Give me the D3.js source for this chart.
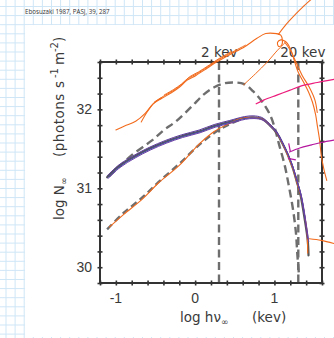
<!DOCTYPE html>
<html>
<head>
<meta charset="utf-8">
<script src="https://cdn.jsdelivr.net/npm/d3@7"></script>
<style>
  body { margin: 0; background: #fff; }
  svg { display: block; }
</style>
</head>
<body>
<svg id="chart" width="334" height="338"></svg>
<script>
// axis labels / markers
const xTickLabels = [-1, 0, 1];
const yTickLabels = [30, 31, 32];
const markerKeV = [2, 20];
const markerLabels = ["2 kev", "20 kev"];

// [log hv, log N]
const modelCurve = [[-1.11,31.14],[-0.96,31.28],[-0.77,31.40],[-0.58,31.50],[-0.37,31.59],[-0.17,31.66],
  [0.05,31.72],[0.24,31.79],[0.43,31.84],[0.62,31.89],[0.73,31.90],[0.84,31.88],[0.94,31.80],[1.03,31.70],
  [1.10,31.57],[1.17,31.42],[1.23,31.26],[1.28,31.09],[1.33,30.91],[1.38,30.62],[1.42,30.34],[1.43,30.15]];
const blackbodyHigh = [[-1.09,31.15],[-0.94,31.29],[-0.80,31.42],[-0.54,31.61],[-0.39,31.74],[-0.24,31.85],
  [-0.04,32.04],[0.11,32.19],[0.24,32.28],[0.37,32.33],[0.49,32.34],[0.62,32.32],[0.73,32.23],[0.85,32.09],
  [0.94,31.94],[1.00,31.78],[1.06,31.55],[1.13,31.29],[1.18,31.04],[1.23,30.76],[1.27,30.45],[1.29,30.15],[1.31,29.90]];
const blackbodyLow = [[-1.11,30.48],[-0.90,30.69],[-0.67,30.88],[-0.46,31.08],[-0.20,31.31],[0.05,31.55],
  [0.24,31.70],[0.43,31.81],[0.62,31.89]];

// hand-drawn overlay strokes
const orangeLower = [[-1.08,30.51],[-0.90,30.67],[-0.67,30.86],[-0.46,31.07],[-0.20,31.29],[0.05,31.56],
  [0.24,31.72],[0.41,31.81],[0.56,31.88],[0.71,31.90],[0.84,31.88],[0.94,31.80],[1.03,31.70],[1.11,31.55],
  [1.18,31.39],[1.24,31.23],[1.29,31.05],[1.34,30.88],[1.38,30.66],[1.41,30.45],[1.42,30.18]];
const orangeUpper = [[-1.00,31.74],[-0.89,31.79],[-0.75,31.85],[-0.63,31.95],[-0.53,32.07],[-0.42,32.14],
  [-0.30,32.21],[-0.20,32.28],[-0.10,32.37],[0.01,32.43],[0.15,32.52],[0.27,32.60],[0.43,32.69],[0.62,32.79],
  [0.78,32.90],[0.89,32.96],[1.03,32.96]];
const orangeBranch = [[-0.68,31.84],[-0.61,31.96],[-0.52,32.08],[-0.42,32.15]];
const orangeCurl = [[1.03,32.96],[1.08,32.94],[1.10,32.88],[1.09,32.81],[1.05,32.80],[1.04,32.85],[1.08,32.88],
  [1.14,32.86],[1.18,32.81],[1.22,32.72],[1.25,32.62],[1.30,32.47],[1.37,32.34],[1.43,32.22],[1.48,32.09],
  [1.52,31.93],[1.54,31.80],[1.57,31.61],[1.59,31.42],[1.62,31.26],[1.66,31.10]];
const orangeCurl2 = [[1.13,32.85],[1.20,32.75],[1.28,32.58],[1.35,32.43],[1.44,32.28],[1.51,32.12],[1.54,31.96]];
const orangeUp = [[1.05,32.95],[1.15,33.08],[1.27,33.21],[1.35,33.29],[1.46,33.39]];
const orangePeak = [[0.61,32.31],[0.76,32.45],[0.91,32.60],[1.04,32.75],[1.13,32.84]];
const orangeRight = [[1.44,30.36],[1.59,30.34],[1.75,30.30]];
const pinkArrow = [[0.77,32.07],[0.87,32.12],[1.03,32.18],[1.19,32.24],[1.35,32.30],[1.54,32.34],[1.75,32.38]];
const magentaArrow = [[1.19,31.46],[1.32,31.51],[1.47,31.55],[1.59,31.58],[1.75,31.61]];
const magentaBarbs = [[[1.18,31.57],[1.20,31.47]], [[1.17,31.38],[1.27,31.36]]];

const svg = d3.select('#chart');
const W = 334, H = 338;

const x = d3.scaleLinear().domain([-1.2, 1.6]).range([100, 322]);
const y = d3.scaleLinear().domain([29.8, 32.6]).range([283, 62]);

// graph paper behind the scan
const grid = svg.append('g').attr('stroke', '#cfe6f7').attr('stroke-width', 1);
d3.range(6, W, 9.1).forEach(v => grid.append('line').attr('x1', v).attr('x2', v).attr('y1', 0).attr('y2', H));
d3.range(6.5, H, 9.1).forEach(v => grid.append('line').attr('y1', v).attr('y2', v).attr('x1', 0).attr('x2', W));
svg.append('rect').attr('x', 25).attr('y', 25).attr('width', W - 25).attr('height', 312).attr('fill', '#fff');

svg.append('text').attr('x', 25).attr('y', 14)
  .attr('font-family', 'Open Sans, sans-serif').attr('font-size', 6.2).attr('fill', '#333')
  .text('Ebosuzaki 1987, PASJ, 39, 287');

const line = d3.line().x(d => x(d[0])).y(d => y(d[1])).curve(d3.curveCatmullRom.alpha(0.5));
const straight = d3.line().x(d => x(d[0])).y(d => y(d[1]));

// 2 keV / 20 keV markers
markerKeV.forEach((e, i) => {
  const xv = x(Math.log10(e));
  svg.append('line').attr('x1', xv).attr('x2', xv).attr('y1', y(32.6)).attr('y2', y(29.8))
    .attr('stroke', '#6e6e6e').attr('stroke-width', 2.4).attr('stroke-dasharray', '8,4.5');
  svg.append('text').attr('x', xv - 18).attr('y', 57)
    .attr('font-family', 'DejaVu Sans, sans-serif').attr('font-size', 13.5).attr('fill', '#3a3a3a')
    .text(markerLabels[i]);
});

function curve(data, color, width, dash) {
  const p = svg.append('path').datum(data).attr('d', line)
    .attr('fill', 'none').attr('stroke', color).attr('stroke-width', width)
    .attr('stroke-linecap', 'round').attr('stroke-linejoin', 'round');
  if (dash) p.attr('stroke-dasharray', dash).attr('stroke-linecap', 'butt');
  return p;
}

curve(blackbodyHigh, '#6e6e6e', 2.4, '8,4.5');
curve(blackbodyLow, '#6e6e6e', 2.4, '7,4');
curve(modelCurve, '#555', 2.2);

// overlays
curve(orangeLower, '#f26b1d', 1.1);
const purple = modelCurve.slice(0, 21);
curve(purple, '#5b3a9e', 1).attr('transform', 'translate(0,-1.4)');
curve(purple.slice(0, 20), '#3f4fae', 0.9).attr('transform', 'translate(0.6,0.4)');
curve(purple, '#6a3fa8', 1).attr('transform', 'translate(1,1.3)');

// frame and ticks
const frame = svg.append('g');
const minorX = d3.range(-12, 17, 2).map(d => d / 10);
const minorY = d3.range(298, 327, 2).map(d => d / 10);
[[d3.axisBottom, 283], [d3.axisTop, 283], [d3.axisBottom, 62], [d3.axisTop, 62]].forEach(([ax, ty]) => {
  frame.append('g').attr('transform', `translate(0,${ty})`)
    .call(ax(x).tickValues(minorX).tickSize(2.5).tickSizeOuter(0).tickFormat(''))
    .call(g => g.select('.domain').remove())
    .selectAll('line').attr('stroke', '#333').attr('stroke-width', 1.6);
});
[[d3.axisLeft, 100], [d3.axisRight, 100], [d3.axisLeft, 322], [d3.axisRight, 322]].forEach(([ax, tx]) => {
  frame.append('g').attr('transform', `translate(${tx},0)`)
    .call(ax(y).tickValues(minorY).tickSize(2.5).tickSizeOuter(0).tickFormat(''))
    .call(g => g.select('.domain').remove())
    .selectAll('line').attr('stroke', '#333').attr('stroke-width', 1.6);
});
frame.append('rect').attr('x', 100).attr('y', 62).attr('width', 222).attr('height', 221)
  .attr('fill', 'none').attr('stroke', '#333').attr('stroke-width', 2);

const tickFont = 'Liberation Sans, Arial, sans-serif';
svg.selectAll('.xl').data(xTickLabels).join('text')
  .attr('x', d => x(d)).attr('y', 303).attr('text-anchor', 'middle')
  .attr('font-family', tickFont).attr('font-size', 14).attr('fill', '#3a3a3a')
  .text(d => d);
svg.selectAll('.yl').data(yTickLabels).join('text')
  .attr('x', 92).attr('y', d => y(d) + 5).attr('text-anchor', 'end')
  .attr('font-family', tickFont).attr('font-size', 14).attr('fill', '#3a3a3a')
  .text(d => d);

// axis titles
const labFont = 'DejaVu Sans, sans-serif';
const xt = svg.append('text').attr('font-family', labFont).attr('font-size', 13.5).attr('fill', '#3a3a3a');
xt.append('tspan').attr('x', 180).attr('y', 322).text('log h\u03bd');
xt.append('tspan').attr('y', 325).attr('font-size', 9).text('\u221e');
xt.append('tspan').attr('x', 252).attr('y', 322).text('(kev)');

const yt = svg.append('text').attr('transform', 'translate(64,130) rotate(-90)')
  .attr('font-family', labFont).attr('font-size', 13.5).attr('fill', '#3a3a3a');
yt.append('tspan').attr('x', -90).attr('y', 0).text('log N');
yt.append('tspan').attr('y', 3).attr('font-size', 9).text('\u221e');
yt.append('tspan').attr('x', -27).attr('y', 0).attr('letter-spacing', 0.5).text('(photons');
yt.append('tspan').attr('x', 42).attr('y', 0).text('s');
yt.append('tspan').attr('x', 52).attr('y', -6).attr('font-size', 10).text('-1');
yt.append('tspan').attr('x', 65).attr('y', 0).text('m');
yt.append('tspan').attr('x', 78).attr('y', -6).attr('font-size', 10).text('-2');
yt.append('tspan').attr('x', 88).attr('y', 0).text(')');

// hand annotations on top
curve(orangeUpper, '#f26b1d', 1.1);
curve(orangeUpper.slice(4, 14), '#f26b1d', 1).attr('transform', 'translate(1.2,-1.8)');
curve(orangeUpper.slice(5, 13), '#f26b1d', 1).attr('transform', 'translate(2.4,-3.4)');
curve(orangeBranch, '#f26b1d', 1.1);
curve(orangeCurl, '#f26b1d', 1.1);
curve(orangeCurl2, '#f26b1d', 1.1);
curve(orangeUp, '#f26b1d', 1.1);
curve(orangePeak, '#f26b1d', 1);
curve(orangeRight, '#f26b1d', 1.1);
curve(pinkArrow, '#ec1c7c', 1.2);
curve(magentaArrow, '#b5179e', 1.2);
magentaBarbs.forEach(b => svg.append('path').datum(b).attr('d', straight)
  .attr('fill', 'none').attr('stroke', '#b5179e').attr('stroke-width', 1.2));
</script>
</body>
</html>
